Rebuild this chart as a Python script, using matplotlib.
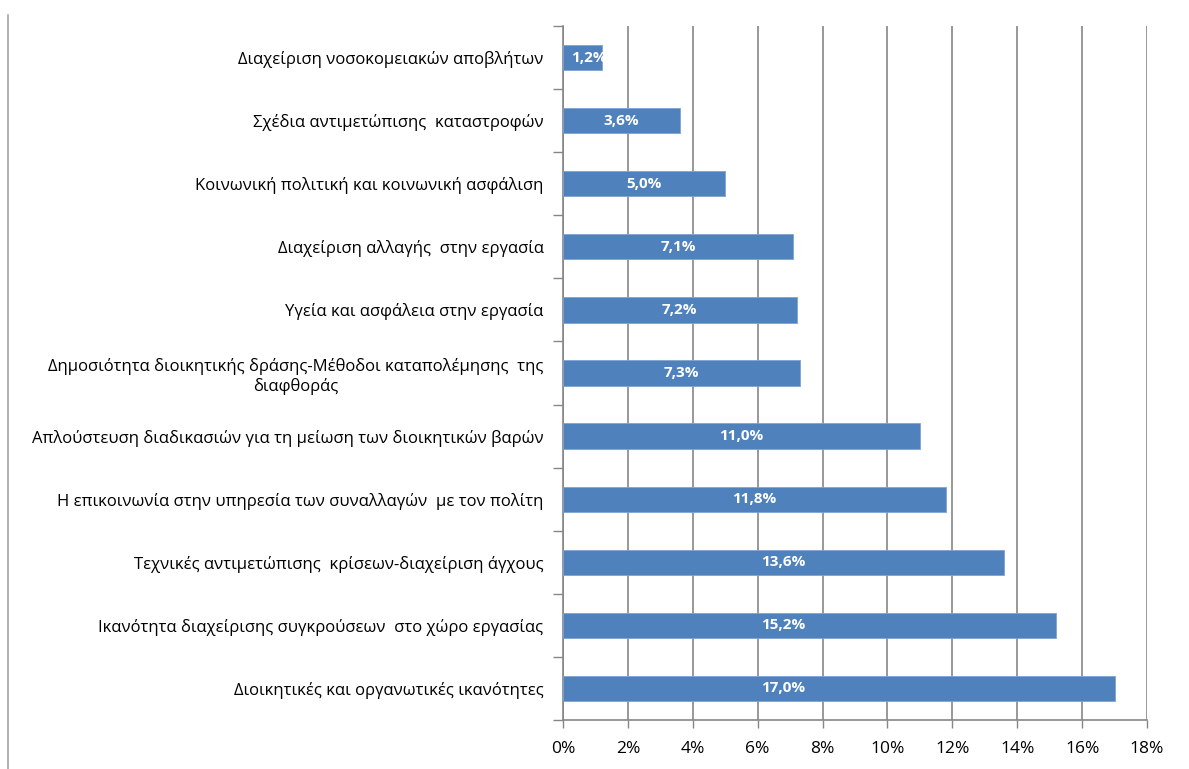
import matplotlib
matplotlib.use("Agg")
import matplotlib.pyplot as plt
from matplotlib.lines import Line2D
import numpy as np

plt.rcParams['font.family'] = ['Open Sans', 'DejaVu Sans']

# δεδομένα (από πάνω προς τα κάτω)
categories = [
    "Διαχείριση νοσοκομειακών αποβλήτων",
    "Σχέδια αντιμετώπισης  καταστροφών",
    "Κοινωνική πολιτική και κοινωνική ασφάλιση",
    "Διαχείριση αλλαγής  στην εργασία",
    "Υγεία και ασφάλεια στην εργασία",
    "Δημοσιότητα διοικητικής δράσης-Μέθοδοι καταπολέμησης  της\nδιαφθοράς",
    "Απλούστευση διαδικασιών για τη μείωση των διοικητικών βαρών",
    "Η επικοινωνία στην υπηρεσία των συναλλαγών  με τον πολίτη",
    "Τεχνικές αντιμετώπισης  κρίσεων-διαχείριση άγχους",
    "Ικανότητα διαχείρισης συγκρούσεων  στο χώρο εργασίας",
    "Διοικητικές και οργανωτικές ικανότητες",
]
values = [1.2, 3.6, 5.0, 7.1, 7.2, 7.3, 11.0, 11.8, 13.6, 15.2, 17.0]
value_labels = ["1,2%", "3,6%", "5,0%", "7,1%", "7,2%", "7,3%",
                "11,0%", "11,8%", "13,6%", "15,2%", "17,0%"]
xticks = [0, 2, 4, 6, 8, 10, 12, 14, 16, 18]
xtick_labels = ["0%", "2%", "4%", "6%", "8%", "10%", "12%", "14%", "16%", "18%"]

bar_color = "#4F81BD"
grid_color = "#868686"

fig = plt.figure(figsize=(11.89, 7.69), dpi=100)
ax = fig.add_axes([563 / 1189, 1 - 720 / 769, 584 / 1189, 694 / 769])

y = np.arange(len(categories))
bars = ax.barh(y, values, height=0.4, color=bar_color, edgecolor="#7ea3d3",
               linewidth=0.6, zorder=3)

# ετικέτες τιμών (λευκές, μέσα στις μπάρες)
for bar, v, lab in zip(bars, values, value_labels):
    t = ax.text(min(v / 2, 6.8) + (0.2 if v < 2 else 0),
                bar.get_y() + bar.get_height() / 2, lab,
                ha="center", va="center", color="white", fontsize=11,
                fontweight="bold", zorder=4)
    t.set_clip_path(bar)

ax.set_xlim(0, 18)
ax.set_ylim(len(categories) - 0.5, -0.5)

ax.set_xticks(xticks)
ax.set_xticklabels(xtick_labels, fontsize=12.5)
ax.set_yticks(y)
ax.set_yticklabels(categories, fontsize=12)
for lab in ax.get_yticklabels():
    lab.set_multialignment("center")
ax.set_yticks(np.arange(-0.5, len(categories)), minor=True)

ax.tick_params(axis="y", which="major", length=0, pad=14)
ax.tick_params(axis="y", which="minor", length=7, color=grid_color, width=1)
ax.tick_params(axis="x", which="major", length=6, color=grid_color, width=1, pad=9)

ax.grid(axis="x", color=grid_color, linewidth=1.2, zorder=0)
ax.set_axisbelow(True)
for s in ["top", "right"]:
    ax.spines[s].set_visible(False)
for s in ["left", "bottom"]:
    ax.spines[s].set_color(grid_color)
    ax.spines[s].set_linewidth(1.2)

# γραμμή πλαισίου αριστερά
fig.add_artist(Line2D([8 / 1189, 8 / 1189], [0, 1 - 15 / 769],
                      transform=fig.transFigure, color="#a6a6a6", linewidth=1.2))

fig.savefig("out.png", dpi=100)
